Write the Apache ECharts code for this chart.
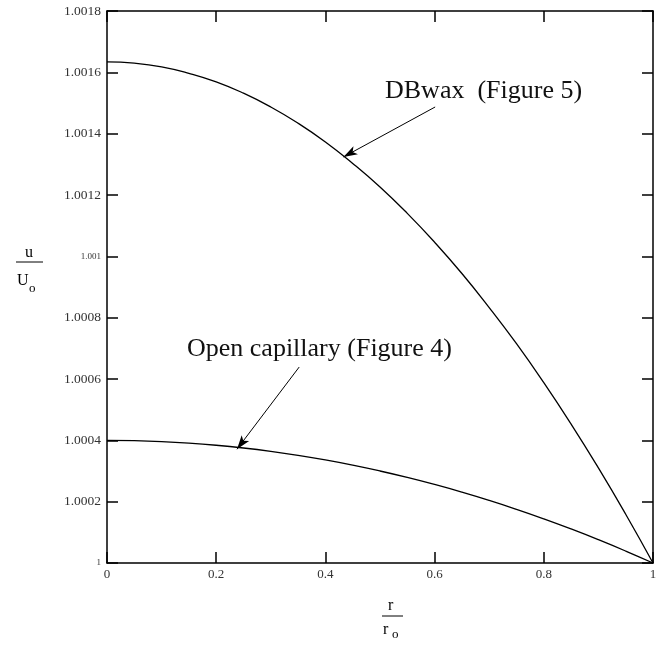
<!DOCTYPE html>
<html>
<head>
<meta charset="utf-8">
<script src="https://cdn.jsdelivr.net/npm/echarts@6/dist/echarts.min.js"></script>
<style>
  html, body { margin: 0; padding: 0; background: #fff; }
  #chart { width: 668px; height: 645px; }
</style>
</head>
<body>
<div id="chart"></div>
<script>
// r / r0
const rValues = [0, 0.05, 0.1, 0.15, 0.2, 0.25, 0.3, 0.35, 0.4, 0.45, 0.5,
  0.55, 0.6, 0.65, 0.7, 0.75, 0.8, 0.85, 0.9, 0.95, 1];
// u / U0, DBwax (Figure 5)
const dbwaxValues = [1.001634, 1.001630, 1.001618, 1.001597, 1.001569, 1.001532,
  1.001487, 1.001434, 1.001373, 1.001303, 1.001226, 1.001140, 1.001046,
  1.000944, 1.000833, 1.000715, 1.000588, 1.000453, 1.000310, 1.000159, 1.000000];
// u / U0, open capillary (Figure 4)
const openValues = [1.000400, 1.000399, 1.000396, 1.000391, 1.000384, 1.000375,
  1.000364, 1.000351, 1.000336, 1.000319, 1.000300, 1.000279, 1.000256,
  1.000231, 1.000204, 1.000175, 1.000144, 1.000111, 1.000076, 1.000039, 1.000000];
// annotation arrows [from, to] in data units
const dbwaxArrow = [[0.601, 1.001487], [0.433, 1.001324]];
const openArrow = [[0.352, 1.000639], [0.238, 1.000371]];

const serif = '"Liberation Serif", "DejaVu Serif", serif';
const chart = echarts.init(document.getElementById('chart'));

function pairs(xs, ys) {
  return xs.map((x, i) => [x, ys[i]]);
}

function arrowLine(a) {
  return {
    silent: true,
    symbol: ['none', 'arrow'],
    symbolSize: [7, 14],
    label: { show: false },
    lineStyle: { color: '#000', width: 1, type: 'solid' },
    data: [[{ coord: a[0] }, { coord: a[1] }]]
  };
}

const tickStyle = { show: true, inside: true, length: 11, lineStyle: { color: '#000', width: 1.5 } };
const lineStyleAxis = { show: true, onZero: false, lineStyle: { color: '#000', width: 1.5 } };

var option = {
  animation: false,
  backgroundColor: '#fff',
  grid: { left: 107, right: 15, top: 11, bottom: 82 },
  xAxis: [
    {
      type: 'value', min: 0, max: 1, interval: 0.2, position: 'bottom',
      axisLine: lineStyleAxis, axisTick: tickStyle, splitLine: { show: false },
      axisLabel: {
        margin: 5, color: '#333', fontFamily: serif, fontSize: 13,
        formatter: v => String(parseFloat(v.toFixed(1)))
      }
    },
    {
      type: 'value', min: 0, max: 1, interval: 0.2, position: 'top',
      axisLine: lineStyleAxis, axisTick: tickStyle, splitLine: { show: false },
      axisLabel: { show: false }
    }
  ],
  yAxis: [
    {
      type: 'value', min: 1, max: 1.0018, interval: 0.0002, position: 'left',
      axisLine: lineStyleAxis, axisTick: tickStyle, splitLine: { show: false },
      axisLabel: {
        margin: 6, color: '#333', fontFamily: serif, fontSize: 13.5,
        formatter: function (v) {
          const s = String(parseFloat(v.toFixed(4)));
          return s.length < 6 ? '{s|' + s + '}' : s;
        },
        rich: { s: { fontFamily: serif, fontSize: 9, color: '#333' } }
      }
    },
    {
      type: 'value', min: 1, max: 1.0018, interval: 0.0002, position: 'right',
      axisLine: lineStyleAxis, axisTick: tickStyle, splitLine: { show: false },
      axisLabel: { show: false }
    }
  ],
  series: [
    {
      name: 'DBwax (Figure 5)',
      type: 'line',
      data: pairs(rValues, dbwaxValues),
      smooth: true,
      showSymbol: false,
      lineStyle: { color: '#000', width: 1.3 },
      markLine: arrowLine(dbwaxArrow)
    },
    {
      name: 'Open capillary (Figure 4)',
      type: 'line',
      data: pairs(rValues, openValues),
      smooth: true,
      showSymbol: false,
      lineStyle: { color: '#000', width: 1.3 },
      markLine: arrowLine(openArrow)
    }
  ],
  graphic: [
    // curve labels
    { type: 'text', left: 385, top: 78, style: { text: 'DBwax  (Figure 5)', font: '26px ' + serif, fill: '#111' } },
    { type: 'text', left: 187, top: 336, style: { text: 'Open capillary (Figure 4)', font: '26px ' + serif, fill: '#111' } },
    // y axis name: u / Uo
    { type: 'text', left: 25, top: 245, style: { text: 'u', font: '16px ' + serif, fill: '#000' } },
    { type: 'line', shape: { x1: 16, y1: 262, x2: 43, y2: 262 }, style: { stroke: '#000', lineWidth: 1 } },
    { type: 'text', left: 17, top: 273, style: { text: 'U', font: '16px ' + serif, fill: '#000' } },
    { type: 'text', left: 29, top: 282, style: { text: 'o', font: '13px ' + serif, fill: '#000' } },
    // x axis name: r / ro
    { type: 'text', left: 388, top: 598, style: { text: 'r', font: '16px ' + serif, fill: '#000' } },
    { type: 'line', shape: { x1: 382, y1: 616, x2: 403, y2: 616 }, style: { stroke: '#000', lineWidth: 1 } },
    { type: 'text', left: 383, top: 622, style: { text: 'r', font: '16px ' + serif, fill: '#000' } },
    { type: 'text', left: 392, top: 628, style: { text: 'o', font: '13px ' + serif, fill: '#000' } }
  ]
};
chart.setOption(option);
</script>
</body>
</html>
